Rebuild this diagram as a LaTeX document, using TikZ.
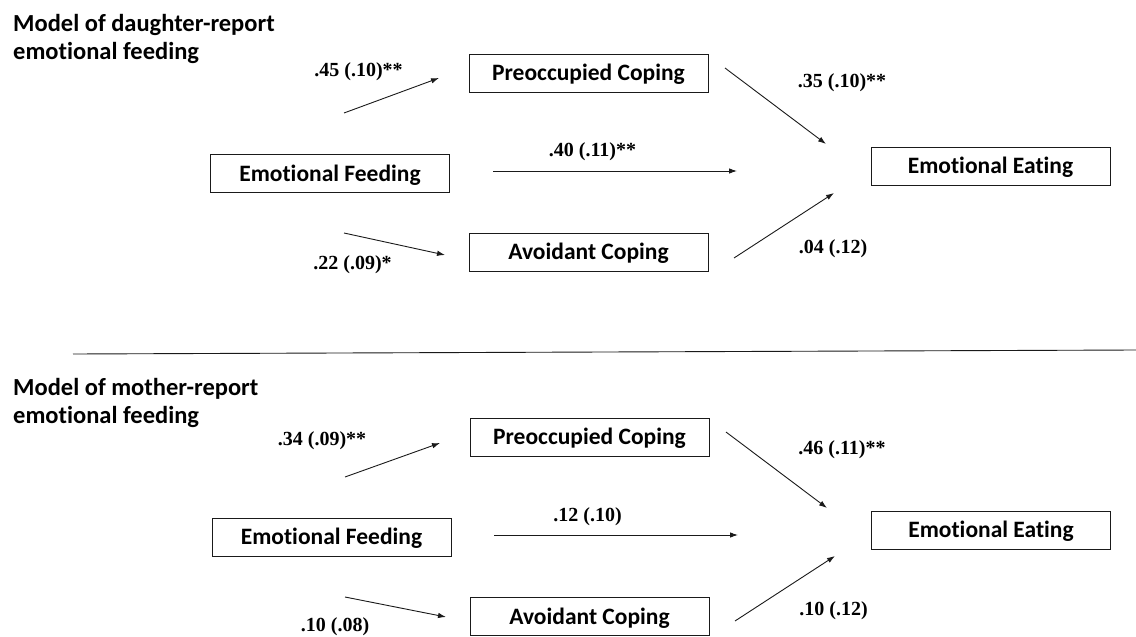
\documentclass[tikz,border=0pt]{standalone}
\usepackage{fontspec}
\setmainfont{Liberation Serif}
\newfontfamily\calfont[Ligatures=NoCommon]{Carlito}
\usetikzlibrary{arrows.meta,positioning}
\definecolor{dark}{HTML}{1A1A1A}
\tikzset{
  varbox/.style={draw=dark, line width=0.9pt, minimum width=239pt, minimum height=38pt, inner sep=0pt, text height=15pt, text depth=0pt, font=\calfont\fontsize{23.5}{28}\selectfont\bfseries},
  title/.style={anchor=north west, inner sep=0pt, align=left, font=\calfont\fontsize{24.5}{28}\selectfont\bfseries},
  coef/.style={inner sep=0pt, font=\fontsize{20}{24}\selectfont\bfseries},
  arrow/.style={-{Latex[length=8pt,width=5.5pt]}, line width=0.9pt, draw=dark}
}

\begin{document}
\begin{tikzpicture}[x=1pt, y=-1pt]
  \useasboundingbox (0,0) rectangle (1136,637);

  % daughter-report model
  \node[title] (ttl1) at (13,14) {Model of daughter-report\\emotional feeding};
  \node[varbox] (feed1) at (330,173.5) {Emotional Feeding};
  \node[varbox] (preo1) at (588.5,73) {Preoccupied Coping};
  \node[varbox] (avoid1) at (588.5,252) {Avoidant Coping};
  \node[varbox] (eat1) at (990.5,166) {Emotional Eating};

  \coordinate (a1s) at (344,113);  \coordinate (a1e) at (439,78);
  \coordinate (b1s) at (344,233);  \coordinate (b1e) at (445,255);
  \coordinate (c1s) at (493,171);  \coordinate (c1e) at (737,171);
  \coordinate (d1s) at (725,68);   \coordinate (d1e) at (826,144);
  \coordinate (e1s) at (734,258);  \coordinate (e1e) at (834,193);
  \draw[arrow] (a1s) -- (a1e);
  \draw[arrow] (b1s) -- (b1e);
  \draw[arrow] (c1s) -- (c1e);
  \draw[arrow] (d1s) -- (d1e);
  \draw[arrow] (e1s) -- (e1e);

  \node[coef] (ka1) at (358.5,72) {.45 (.10)**};
  \node[coef] (kb1) at (352.5,265) {.22 (.09)*};
  \node[coef] (kc1) at (592.5,152) {.40 (.11)**};
  \node[coef] (kd1) at (842,83) {.35 (.10)**};
  \node[coef] (ke1) at (833,249) {.04 (.12)};

  % divider
  \draw[line width=0.9pt, draw=dark] (73,354) -- (1136,350);

  % mother-report model
  \node[title] (ttl2) at (13,378) {Model of mother-report\\emotional feeding};
  \node[varbox] (feed2) at (331.5,537) {Emotional Feeding};
  \node[varbox] (preo2) at (589.5,437) {Preoccupied Coping};
  \node[varbox] (avoid2) at (589.5,616.5) {Avoidant Coping};
  \node[varbox] (eat2) at (991,530) {Emotional Eating};

  \coordinate (a2s) at (345,477);  \coordinate (a2e) at (440,443);
  \coordinate (b2s) at (345,597);  \coordinate (b2e) at (446,617);
  \coordinate (c2s) at (494,535);  \coordinate (c2e) at (738,535);
  \coordinate (d2s) at (726,432);  \coordinate (d2e) at (827,508);
  \coordinate (e2s) at (735,621);  \coordinate (e2e) at (835,556);
  \draw[arrow] (a2s) -- (a2e);
  \draw[arrow] (b2s) -- (b2e);
  \draw[arrow] (c2s) -- (c2e);
  \draw[arrow] (d2s) -- (d2e);
  \draw[arrow] (e2s) -- (e2e);

  \node[coef] (ka2) at (322,441) {.34 (.09)**};
  \node[coef] (kb2) at (335,627) {.10 (.08)};
  \node[coef] (kc2) at (587.5,517) {.12 (.10)};
  \node[coef] (kd2) at (842,450) {.46 (.11)**};
  \node[coef] (ke2) at (833.5,611) {.10 (.12)};
\end{tikzpicture}
\end{document}
